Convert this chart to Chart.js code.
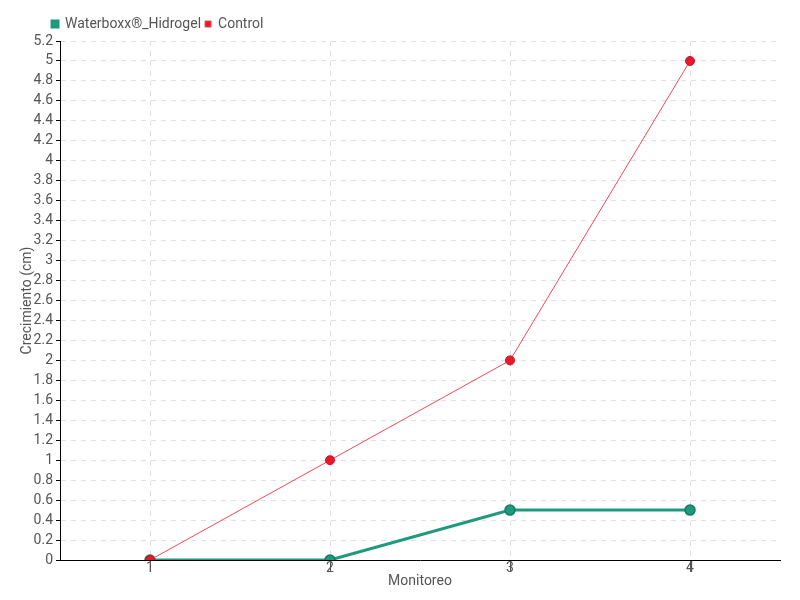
<!DOCTYPE html>
<html><head><meta charset="utf-8">
<script src="https://cdn.jsdelivr.net/npm/chart.js@4"></script>
<style>html,body{margin:0;padding:0;background:#fff}#w{width:800px;height:600px}</style>
</head><body><div id="w"><canvas id="c" width="800" height="600"></canvas></div>
<script>
const categories = ['1', '2', '3', '4'];
const waterboxx = [0, 0, 0.5, 0.5];
const control = [0, 1, 2, 5];
const seriesNames = ['Waterboxx®_Hidrogel', 'Control'];
const yMin = 0, yMax = 5.2, yStep = 0.2;

const FONT = 'Roboto, "Liberation Sans Narrow", sans-serif';
Chart.defaults.font.family = FONT;
Chart.defaults.font.size = 14;
Chart.defaults.color = '#555';

const shiftLegend = {
  id: 'shiftLegend',
  afterLayout(chart) {
    const lg = chart.legend;
    if (lg) { lg.left += 30; lg.right += 30; }
  }
};

new Chart(document.getElementById('c'), {
  type: 'line',
  data: {
    labels: categories,
    datasets: [
      { label: seriesNames[0], data: waterboxx, borderColor: '#1f9a7e', backgroundColor: '#1f9a7e',
        borderWidth: 3, pointRadius: 5, pointBorderColor: '#187a63', pointBorderWidth: 1.5,
        pointBackgroundColor: '#1f9a7e', order: 1, tension: 0 },
      { label: seriesNames[1], data: control, borderColor: '#f0495a', backgroundColor: '#e8192c',
        borderWidth: 1, pointRadius: 4.5, pointBorderColor: '#d01020', pointBorderWidth: 1,
        pointBackgroundColor: '#e8192c', order: 0, tension: 0 }
    ]
  },
  plugins: [shiftLegend],
  options: {
    responsive: false,
    animation: false,
    layout: { padding: { left: 18, right: 20, top: 13, bottom: 0 } },
    plugins: {
      tooltip: { enabled: false },
      legend: {
        align: 'start',
        labels: {
          boxWidth: 6, boxHeight: 6, padding: 4, color: '#555',
          font: { size: 14 },
          sort: (a, b) => a.datasetIndex - b.datasetIndex
        }
      }
    },
    scales: {
      x: {
        type: 'category',
        offset: true,
        afterFit: (s) => { s.height = 40; },
        border: { color: '#000', width: 1, dash: [5, 5] },
        grid: { offset: false, color: '#e0e0e0', tickColor: '#555', tickLength: 12, tickBorderDash: [] },
        ticks: { color: '#555', padding: -12, font: { size: 14 } },
        title: { display: true, text: 'Monitoreo', color: '#555', font: { size: 14 }, padding: { top: 0, bottom: 10 } }
      },
      y: {
        min: yMin, max: yMax,
        afterFit: (s) => { s.width = 42; },
        border: { color: '#000', width: 1, dash: [5, 5] },
        grid: { color: '#e0e0e0', tickColor: '#000', tickLength: 4, tickBorderDash: [] },
        ticks: { stepSize: yStep, color: '#555', padding: 3, font: { size: 14 },
          callback: (v) => Math.round(v * 10) / 10 },
        title: { display: true, text: 'Crecimiento (cm)', color: '#555', font: { size: 14 }, padding: { top: 1, bottom: 0 } }
      }
    }
  }
});
</script></body></html>
